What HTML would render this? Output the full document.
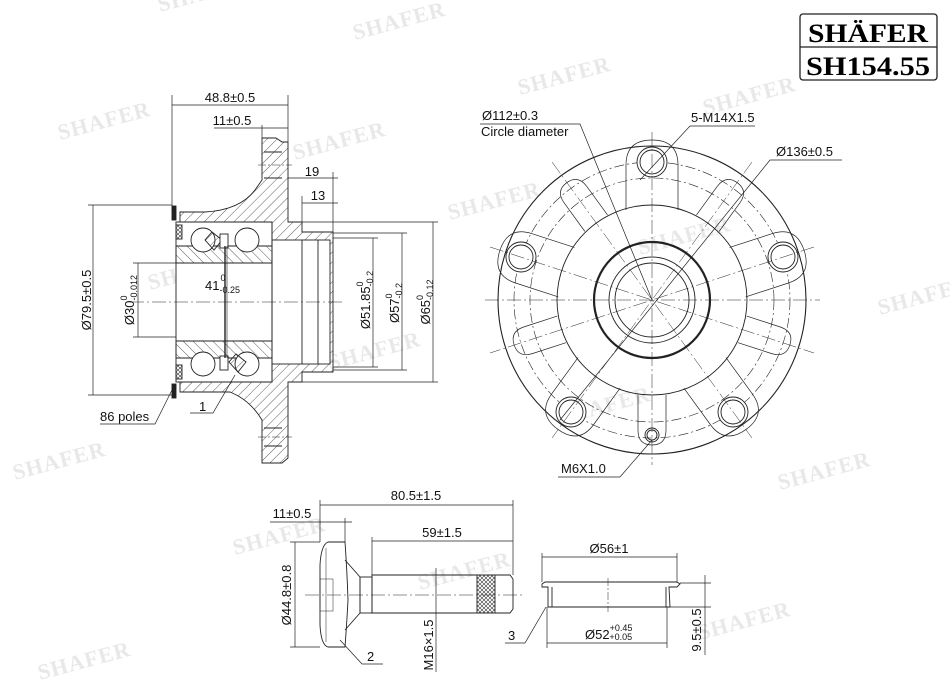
<!DOCTYPE html>
<html><head><meta charset="utf-8"><style>
html,body{margin:0;padding:0;background:#fff}
svg{display:block}
text{font-family:"Liberation Sans",sans-serif;fill:#111}
.wm text{font-family:"Liberation Serif",serif;font-weight:bold;font-size:22px;fill:#e8e8e8;letter-spacing:1px}
</style></head><body>
<svg width="950" height="688" viewBox="0 0 950 688" xmlns="http://www.w3.org/2000/svg">
<defs>
<pattern id="h" width="7" height="7" patternUnits="userSpaceOnUse" patternTransform="rotate(45)"><line x1="0" y1="0" x2="0" y2="7" stroke="#333" stroke-width="0.8"/></pattern>
<pattern id="h2" width="7" height="7" patternUnits="userSpaceOnUse" patternTransform="rotate(-45)"><line x1="0" y1="0" x2="0" y2="7" stroke="#333" stroke-width="0.8"/></pattern>
<pattern id="kn" width="4" height="4" patternUnits="userSpaceOnUse"><path d="M0 0L4 4M4 0L0 4" stroke="#333" stroke-width="0.6"/></pattern>
</defs>
<!-- watermarks -->
<g class="wm">
<text x="160" y="12" transform="rotate(-15 160 12)">SHAFER</text>
<text x="355" y="40" transform="rotate(-15 355 40)">SHAFER</text>
<text x="520" y="95" transform="rotate(-15 520 95)">SHAFER</text>
<text x="60" y="140" transform="rotate(-15 60 140)">SHAFER</text>
<text x="295" y="160" transform="rotate(-15 295 160)">SHAFER</text>
<text x="450" y="220" transform="rotate(-15 450 220)">SHAFER</text>
<text x="705" y="115" transform="rotate(-15 705 115)">SHAFER</text>
<text x="880" y="315" transform="rotate(-15 880 315)">SHAFER</text>
<text x="150" y="290" transform="rotate(-15 150 290)">SHAFER</text>
<text x="330" y="370" transform="rotate(-15 330 370)">SHAFER</text>
<text x="560" y="425" transform="rotate(-15 560 425)">SHAFER</text>
<text x="15" y="480" transform="rotate(-15 15 480)">SHAFER</text>
<text x="780" y="490" transform="rotate(-15 780 490)">SHAFER</text>
<text x="235" y="555" transform="rotate(-15 235 555)">SHAFER</text>
<text x="420" y="590" transform="rotate(-15 420 590)">SHAFER</text>
<text x="700" y="640" transform="rotate(-15 700 640)">SHAFER</text>
<text x="40" y="680" transform="rotate(-15 40 680)">SHAFER</text>
<text x="640" y="255" transform="rotate(-15 640 255)">SHAFER</text>
</g>
<!-- logo -->
<rect x="800" y="14" width="137" height="66" rx="3" fill="#fff" stroke="#222" stroke-width="1.3"/>
<line x1="800" y1="47" x2="937" y2="47" stroke="#222" stroke-width="1.3"/>
<text x="868" y="42" text-anchor="middle" style="font-family:'Liberation Serif',serif;font-weight:bold;font-size:26px;fill:#000" textLength="120" lengthAdjust="spacingAndGlyphs">SHÄFER</text>
<text x="868" y="75" text-anchor="middle" style="font-family:'Liberation Serif',serif;font-weight:bold;font-size:26px;fill:#000" textLength="124" lengthAdjust="spacingAndGlyphs">SH154.55</text>

<g fill="none" stroke="#222" stroke-width="0.9">
<!-- ===== Section view ===== -->
<path d="M180 212 L205 212 Q240 210 255 190 L262 180 L262 138 L276 138 L282 142 L288 142 L288 222 L302 222 L302 232 L333 232 L333 372 L302 372 L302 382 L288 382 L288 458 L282 463 L262 463 L262 420 Q250 400 230 392 L205 392 L180 392 Z" fill="url(#h)"/>
<rect x="272" y="240" width="58" height="124" fill="#fff"/>
<line x1="302" y1="240" x2="302" y2="364"/><line x1="318" y1="240" x2="318" y2="364"/>
<rect x="176" y="222" width="96" height="160" fill="#fff"/>
<path d="M176 246 L272 246 L272 263 L176 263 Z" fill="url(#h2)"/>
<path d="M176 341 L272 341 L272 358 L176 358 Z" fill="url(#h2)"/>
<line x1="176" y1="263" x2="272" y2="263"/><line x1="176" y1="341" x2="272" y2="341"/>
<path d="M178 222 L272 222 L272 382 L178 382"/>
<circle cx="203" cy="240" r="12" fill="#fff"/><circle cx="247" cy="240" r="12" fill="#fff"/>
<circle cx="203" cy="364" r="12" fill="#fff"/><circle cx="247" cy="364" r="12" fill="#fff"/>
<path d="M212 232 L222 240 L214 250 L205 240Z" fill="url(#h)"/>
<path d="M236 354 L246 362 L238 372 L229 362Z" fill="url(#h)"/>
<rect x="220" y="234" width="8" height="14" fill="#fff"/><rect x="220" y="356" width="8" height="14" fill="#fff"/>
<line x1="225" y1="246" x2="225" y2="358" stroke-width="1.4"/>
<line x1="227" y1="246" x2="227" y2="358" stroke-width="0.6"/>
<rect x="172" y="206" width="4" height="14" fill="#222"/><rect x="172" y="384" width="4" height="14" fill="#222"/>
<rect x="176" y="225" width="6" height="14" fill="url(#kn)"/><rect x="176" y="365" width="6" height="14" fill="url(#kn)"/>
<line x1="258" y1="165" x2="292" y2="165" stroke-dasharray="8 2 2 2" stroke-width="0.6"/>
<line x1="258" y1="437" x2="292" y2="437" stroke-dasharray="8 2 2 2" stroke-width="0.6"/>
<line x1="264" y1="152" x2="282" y2="152"/><line x1="264" y1="178" x2="282" y2="178"/>
<line x1="264" y1="428" x2="282" y2="428"/><line x1="264" y1="446" x2="282" y2="446"/>
<line x1="130" y1="302" x2="345" y2="302" stroke-dasharray="14 3 2 3" stroke-width="0.6"/>
<g stroke-width="0.7">
<line x1="172" y1="95" x2="172" y2="212"/><line x1="288" y1="95" x2="288" y2="142"/>
<line x1="172" y1="105" x2="288" y2="105"/>
<line x1="214" y1="128" x2="288" y2="128"/><line x1="262" y1="125" x2="262" y2="138"/>
<line x1="288" y1="178" x2="338" y2="178"/><line x1="333" y1="172" x2="333" y2="232"/>
<line x1="302" y1="203" x2="338" y2="203"/><line x1="302" y1="196" x2="302" y2="222"/>
<line x1="88" y1="205" x2="172" y2="205"/><line x1="88" y1="395" x2="172" y2="395"/>
<line x1="93" y1="205" x2="93" y2="395"/>
<line x1="133" y1="263" x2="176" y2="263"/><line x1="133" y1="337" x2="176" y2="337"/>
<line x1="138" y1="263" x2="138" y2="337"/>
<line x1="333" y1="238" x2="378" y2="238"/><line x1="333" y1="367" x2="378" y2="367"/>
<line x1="373" y1="238" x2="373" y2="367"/>
<line x1="333" y1="233" x2="407" y2="233"/><line x1="333" y1="370" x2="407" y2="370"/>
<line x1="402" y1="233" x2="402" y2="370"/>
<line x1="302" y1="222" x2="438" y2="222"/><line x1="302" y1="382" x2="438" y2="382"/>
<line x1="433" y1="222" x2="433" y2="382"/>
<polyline points="190,413 213,413 235,375"/>
<polyline points="100,424 155,424 172,390"/>
</g>

<!-- ===== Front view ===== -->
<g>
<circle cx="652" cy="300" r="154" stroke-width="1.1"/>
<circle cx="652" cy="300" r="95"/>
<circle cx="652" cy="300" r="58" stroke-width="2.2"/>
<circle cx="652" cy="300" r="43"/>
<circle cx="652" cy="300" r="37"/>
<circle cx="652" cy="300" r="138" stroke-dasharray="10 3 2 3" stroke-width="0.6"/>
<circle cx="652" cy="300" r="122" stroke-dasharray="10 3 2 3" stroke-width="0.6"/>
<g stroke-width="0.7">
<g transform="rotate(0 652 300)"><path d="M626 210 L626 165 Q626 140 652 140 Q678 140 678 165 L678 210"/></g>
<g transform="rotate(72 652 300)"><path d="M626 210 L626 165 Q626 140 652 140 Q678 140 678 165 L678 210"/></g>
<g transform="rotate(144 652 300)"><path d="M626 210 L626 165 Q626 140 652 140 Q678 140 678 165 L678 210"/></g>
<g transform="rotate(216 652 300)"><path d="M626 210 L626 165 Q626 140 652 140 Q678 140 678 165 L678 210"/></g>
<g transform="rotate(288 652 300)"><path d="M626 210 L626 165 Q626 140 652 140 Q678 140 678 165 L678 210"/></g>
<g transform="rotate(36 652 300)"><path d="M638 205 L638 170 Q638 155 652 155 Q666 155 666 170 L666 205"/></g>
<g transform="rotate(108 652 300)"><path d="M638 205 L638 170 Q638 155 652 155 Q666 155 666 170 L666 205"/></g>
<g transform="rotate(180 652 300)"><path d="M638 205 L638 170 Q638 155 652 155 Q666 155 666 170 L666 205"/></g>
<g transform="rotate(252 652 300)"><path d="M638 205 L638 170 Q638 155 652 155 Q666 155 666 170 L666 205"/></g>
<g transform="rotate(324 652 300)"><path d="M638 205 L638 170 Q638 155 652 155 Q666 155 666 170 L666 205"/></g>
</g>
<g fill="#fff">
<circle cx="652" cy="162" r="15"/><circle cx="783" cy="257" r="15"/><circle cx="733" cy="412" r="15"/><circle cx="571" cy="412" r="15"/><circle cx="521" cy="257" r="15"/>
</g>
<circle cx="652" cy="162" r="12"/><circle cx="783" cy="257" r="12"/><circle cx="733" cy="412" r="12"/><circle cx="571" cy="412" r="12"/><circle cx="521" cy="257" r="12"/>
<circle cx="652" cy="435" r="7"/><circle cx="652" cy="435" r="5"/>
<g stroke-dasharray="14 3 2 3" stroke-width="0.5">
<line x1="485" y1="300" x2="820" y2="300"/>
<line x1="652" y1="132" x2="652" y2="465"/>
<line x1="490" y1="247" x2="814" y2="353"/>
<line x1="814" y1="247" x2="490" y2="353"/>
<line x1="552" y1="162" x2="752" y2="438"/>
<line x1="752" y1="162" x2="552" y2="438"/>
</g>
<g stroke-width="0.7">
<polyline points="480,124 580,124 652,300"/>
<polyline points="755,126 690,126 640,180"/>
<polyline points="842,160 770,160 560,420"/>
<polyline points="558,477 620,477 652,440"/>
</g>
</g>

<!-- ===== Bolt ===== -->
<path d="M345 542 L328 542 Q321 545 320 565 L320 625 Q321 645 328 647 L345 647 Q347 620 348 600 Q347 570 345 542 Z" fill="#fff"/>
<line x1="326" y1="548" x2="326" y2="642" stroke-width="0.5"/>
<path d="M345 560 L360 577 L360 613 L345 630" />
<rect x="360" y="577" width="12" height="36"/>
<path d="M372 575 L510 575 L513 579 L513 609 L510 613 L372 613 Z"/>
<rect x="477" y="575" width="18" height="38" fill="url(#kn)"/>
<rect x="320" y="579" width="13" height="32" stroke-width="0.5"/>
<line x1="305" y1="595" x2="525" y2="595" stroke-dasharray="14 3 2 3" stroke-width="0.5"/>
<g stroke-width="0.7">
<line x1="320" y1="500" x2="320" y2="542"/><line x1="513" y1="500" x2="513" y2="575"/>
<line x1="320" y1="505" x2="513" y2="505"/>
<line x1="270" y1="522" x2="352" y2="522"/><line x1="345" y1="518" x2="345" y2="542"/>
<line x1="372" y1="541" x2="513" y2="541"/><line x1="372" y1="537" x2="372" y2="575"/>
<line x1="290" y1="542" x2="320" y2="542"/><line x1="290" y1="647" x2="320" y2="647"/>
<line x1="295" y1="542" x2="295" y2="647"/>
<line x1="436" y1="568" x2="436" y2="672"/>
<polyline points="340,640 362,664 383,664"/>
</g>

<!-- ===== Cap ===== -->
<path d="M542 584 L545 582 L677 582 L680 584 L677 587 L669 587 L670 607 L548 607 L548 587 L542 587 Z"/>
<line x1="552" y1="587" x2="552" y2="607"/><line x1="666" y1="587" x2="666" y2="607"/>
<line x1="608" y1="578" x2="608" y2="612" stroke-dasharray="8 2 2 2" stroke-width="0.5"/>
<g stroke-width="0.7">
<line x1="542" y1="553" x2="542" y2="582"/><line x1="677" y1="553" x2="677" y2="582"/>
<line x1="542" y1="557" x2="677" y2="557"/>
<line x1="547" y1="607" x2="547" y2="648"/><line x1="667" y1="607" x2="667" y2="648"/>
<line x1="547" y1="643" x2="667" y2="643"/>
<line x1="680" y1="583" x2="711" y2="583"/><line x1="670" y1="607" x2="711" y2="607"/>
<line x1="705" y1="575" x2="705" y2="655"/>
<polyline points="505,643 525,643 546,607"/>
</g>
</g>

<!-- text -->
<g font-size="13">
<text x="230" y="102" text-anchor="middle">48.8±0.5</text>
<text x="232" y="125" text-anchor="middle">11±0.5</text>
<text x="312" y="176" text-anchor="middle">19</text>
<text x="318" y="200" text-anchor="middle">13</text>
<text x="205" y="290">41<tspan font-size="9" dx="1" dy="-9">0</tspan><tspan font-size="9" dx="-6" dy="12">-0.25</tspan></text>
<text x="199" y="411">1</text>
<text x="100" y="421">86 poles</text>
<text transform="translate(91 300) rotate(-90)" text-anchor="middle">Ø79.5±0.5</text>
<text transform="translate(134 300) rotate(-90)" text-anchor="middle">Ø30<tspan font-size="9" dy="-7">0</tspan><tspan font-size="9" dx="-5" dy="10">-0.012</tspan></text>
<text transform="translate(370 300) rotate(-90)" text-anchor="middle">Ø51.85<tspan font-size="9" dy="-7">0</tspan><tspan font-size="9" dx="-5" dy="10">-0.2</tspan></text>
<text transform="translate(399 303) rotate(-90)" text-anchor="middle">Ø57<tspan font-size="9" dy="-7">0</tspan><tspan font-size="9" dx="-5" dy="10">-0.2</tspan></text>
<text transform="translate(430 302) rotate(-90)" text-anchor="middle">Ø65<tspan font-size="9" dy="-7">0</tspan><tspan font-size="9" dx="-5" dy="10">-0.12</tspan></text>
<text x="482" y="120">Ø112±0.3</text>
<text x="481" y="136">Circle diameter</text>
<text x="691" y="122">5-M14X1.5</text>
<text x="776" y="156">Ø136±0.5</text>
<text x="561" y="473">M6X1.0</text>
<text x="416" y="500" text-anchor="middle">80.5±1.5</text>
<text x="292" y="518" text-anchor="middle">11±0.5</text>
<text x="442" y="537" text-anchor="middle">59±1.5</text>
<text transform="translate(291 595) rotate(-90)" text-anchor="middle">Ø44.8±0.8</text>
<text transform="translate(433 645) rotate(-90)" text-anchor="middle">M16×1.5</text>
<text x="367" y="661">2</text>
<text x="609" y="553" text-anchor="middle">Ø56±1</text>
<text x="508" y="640">3</text>
<text x="585" y="639">Ø52<tspan font-size="9" dy="-8">+0.45</tspan><tspan font-size="9" dx="-23" dy="9">+0.05</tspan></text>
<text transform="translate(701 630) rotate(-90)" text-anchor="middle">9.5±0.5</text>
</g>
</svg>
</body></html>
